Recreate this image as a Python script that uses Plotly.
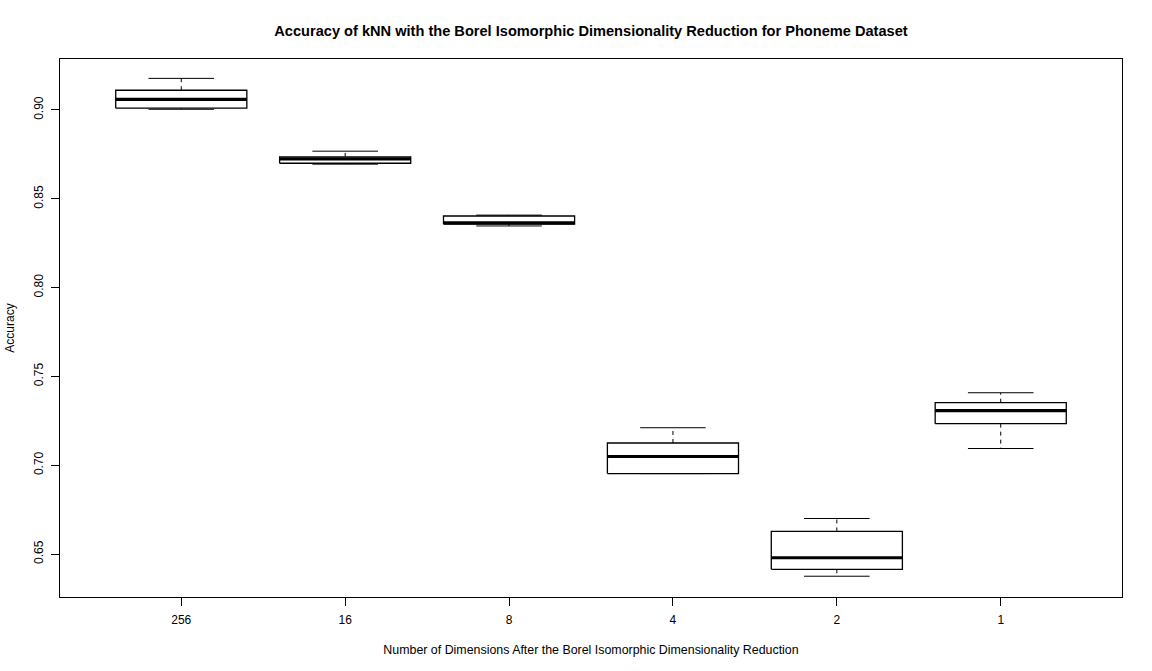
import plotly.graph_objects as go

categories = ["256", "16", "8", "4", "2", "1"]
lower_whisker = [0.9004, 0.8695, 0.8347, 0.6953, 0.6375, 0.7094]
q1 = [0.9010, 0.8700, 0.8358, 0.6953, 0.6414, 0.7234]
median = [0.9060, 0.8725, 0.8364, 0.7049, 0.6479, 0.7307]
q3 = [0.9111, 0.8736, 0.8403, 0.7125, 0.6627, 0.7352]
upper_whisker = [0.9178, 0.8768, 0.8408, 0.7211, 0.6700, 0.7408]
y_ticks = [0.65, 0.70, 0.75, 0.80, 0.85, 0.90]

box_half = 0.4
cap_half = 0.2
positions = list(range(1, len(categories) + 1))

bx, by, mx, my, wx, wy, cx, cy = [], [], [], [], [], [], [], []
for p, lo, a, m, b, hi in zip(positions, lower_whisker, q1, median, q3, upper_whisker):
    bx += [p - box_half, p + box_half, p + box_half, p - box_half, p - box_half, None]
    by += [a, a, b, b, a, None]
    mx += [p - box_half, p + box_half, None]
    my += [m, m, None]
    wx += [p, p, None, p, p, None]
    wy += [b, hi, None, a, lo, None]
    cx += [p - cap_half, p + cap_half, None, p - cap_half, p + cap_half, None]
    cy += [hi, hi, None, lo, lo, None]

fig = go.Figure()
fig.add_trace(go.Scatter(x=wx, y=wy, mode="lines", line=dict(color="black", width=1, dash="4px,4px"),
                         hoverinfo="skip", showlegend=False))
fig.add_trace(go.Scatter(x=cx, y=cy, mode="lines", line=dict(color="black", width=1),
                         hoverinfo="skip", showlegend=False))
fig.add_trace(go.Scatter(x=bx, y=by, mode="lines", fill="toself", fillcolor="white",
                         line=dict(color="black", width=1.3), hoverinfo="skip", showlegend=False))
fig.add_trace(go.Scatter(x=mx, y=my, mode="lines", line=dict(color="black", width=3.2),
                         hoverinfo="skip", showlegend=False))

font = "Liberation Sans, Arial, sans-serif"
fig.update_layout(
    width=1152, height=671,
    margin=dict(l=60, r=30, t=59, b=74),
    paper_bgcolor="white", plot_bgcolor="white",
    font=dict(family=font, size=12, color="black"),
    title=dict(text="<b>Accuracy of kNN with the Borel Isomorphic Dimensionality Reduction for Phoneme Dataset</b>",
               x=0.5, xref="paper", y=1 - 31 / 671, yref="container", yanchor="middle", xanchor="center",
               font=dict(family=font, size=14.6, color="black")),
    xaxis=dict(range=[0.26, 6.74], tickvals=positions, ticktext=categories,
               showgrid=False, zeroline=False, showline=True, linecolor="black", linewidth=1, mirror=True,
               ticks="outside", ticklen=8, tickcolor="black", tickfont=dict(size=12), ticklabelstandoff=4,
               title=dict(text="Number of Dimensions After the Borel Isomorphic Dimensionality Reduction",
                          standoff=18, font=dict(size=12.4)), automargin=False),
    yaxis=dict(range=[0.6258, 0.9287], tickvals=y_ticks, ticktext=[f"{v:.2f}" for v in y_ticks],
               showgrid=False, zeroline=False, showline=True, linecolor="black", linewidth=1, mirror=True,
               ticks="outside", ticklen=8, tickcolor="black", tickangle=-90, tickfont=dict(size=12),
               ticklabelstandoff=3,
               title=dict(text="Accuracy", standoff=15, font=dict(size=12)), automargin=False),
)

fig.write_html("out.html", config={"displayModeBar": False},
               post_script="document.body.style.margin='0';")
